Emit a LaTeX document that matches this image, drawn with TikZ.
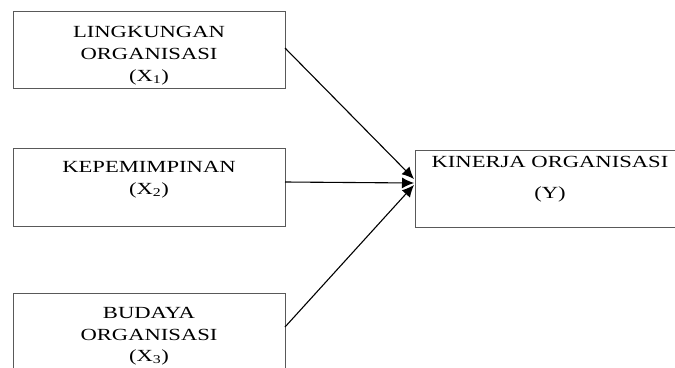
\documentclass[tikz,border=0pt]{standalone}
\usepackage{fontspec}
\setmainfont{Liberation Serif}[FakeStretch=1.33]
\usetikzlibrary{arrows.meta}
\begin{document}
\begin{tikzpicture}[x=1pt,y=-1pt,
  box/.style={draw=black!65,line width=1.3pt,rectangle,inner sep=0pt,anchor=north west},
  txt/.style={inner sep=0pt,anchor=base,font=\fontsize{17}{22}\selectfont},
  conn/.style={draw=black,line width=1.1pt,-{Latex[length=12pt,width=11pt]}}]
\useasboundingbox (0,0) rectangle (675,367);
\clip (0,0) rectangle (675,367);
\node[box,minimum width=272pt,minimum height=77pt] (b1) at (13,11) {};
\node[box,minimum width=272pt,minimum height=78pt] (b2) at (13,148) {};
\node[box,minimum width=272pt,minimum height=90pt] (b3) at (13,293) {};
\node[box,minimum width=270pt,minimum height=77pt] (by) at (415,150) {};
\node[txt] (t1a) at (149,37) {LINGKUNGAN};
\node[txt] (t1b) at (149,59) {ORGANISASI};
\node[txt] (t1c) at (149,81) {(X\textsubscript{1})};
\node[txt] (t2a) at (149,172) {KEPEMIMPINAN};
\node[txt] (t2b) at (149,194) {(X\textsubscript{2})};
\node[txt] (t3a) at (149,318) {BUDAYA};
\node[txt] (t3b) at (149,340) {ORGANISASI};
\node[txt] (t3c) at (149,361) {(X\textsubscript{3})};
\node[txt] (tya) at (550,167) {KINERJA ORGANISASI};
\node[txt] (tyb) at (550,198) {(Y)};
\coordinate (s1) at (285,48);
\coordinate (s2) at (285,182);
\coordinate (s3) at (285,327);
\coordinate (e1) at (414,179);
\coordinate (e2) at (414,183);
\coordinate (e3) at (414,185);
\draw[conn] (s1) -- (e1);
\draw[conn] (s2) -- (e2);
\draw[conn] (s3) -- (e3);
\end{tikzpicture}
\end{document}
